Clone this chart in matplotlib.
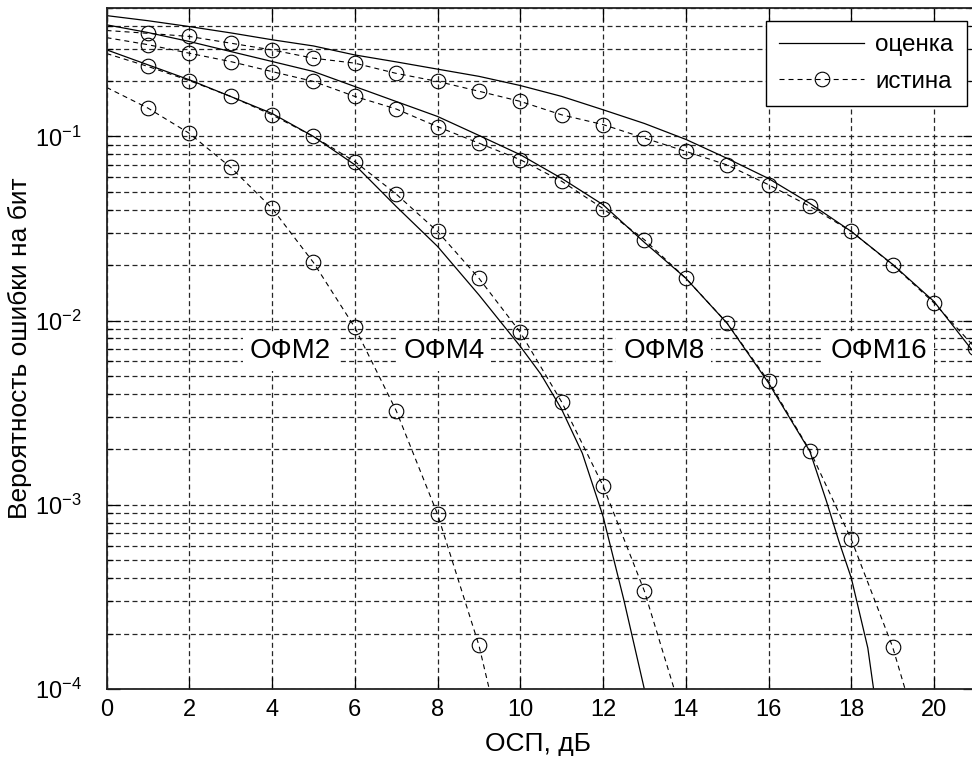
import numpy as np
import matplotlib
matplotlib.use("Agg")
import matplotlib.pyplot as plt
from matplotlib.ticker import LogLocator, NullFormatter, FixedLocator
from matplotlib.lines import Line2D

# ---- data: bit error probability vs SNR (dB) ----
# exact ("истина") curves, markers at integer SNR from 1 dB
true2_snr = [0, 1, 2, 3, 4, 5, 6, 7, 8, 9, 9.25]
true2_ber = [0.1846, 0.1426, 0.104, 0.068, 0.0408, 0.0207, 0.0092, 0.00325,
             0.00089, 0.000173, 0.0001]

true4_snr = [0, 1, 2, 3, 4, 5, 6, 7, 8, 9, 10, 11, 12, 13, 13.72]
true4_ber = [0.282, 0.240, 0.201, 0.165, 0.131, 0.100, 0.0731, 0.0487, 0.0305,
             0.0170, 0.00865, 0.00362, 0.00127, 0.00034, 0.0001]

true8_snr = [0, 1, 2, 3, 4, 5, 6, 7, 8, 9, 10, 11, 12, 13, 14, 15, 16, 17,
             18, 19, 19.3]
true8_ber = [0.344, 0.315, 0.283, 0.255, 0.225, 0.199, 0.165, 0.141, 0.113,
             0.092, 0.0748, 0.0571, 0.0406, 0.0275, 0.0170, 0.0097, 0.00469,
             0.00197, 0.00065, 0.000169, 0.0001]

true16_snr = list(range(0, 22))
true16_ber = [0.376, 0.363, 0.349, 0.321, 0.295, 0.266, 0.250, 0.220, 0.199,
              0.176, 0.155, 0.131, 0.116, 0.098, 0.083, 0.070, 0.0547, 0.0417,
              0.0305, 0.0201, 0.01247, 0.0071]

# approximate ("оценка") curves
est4_snr = [0, 1, 2, 3, 4, 5, 6, 7, 8, 9, 10, 10.5, 11, 11.5, 12, 12.5, 13.05]
est4_ber = [0.2954, 0.2449, 0.2031, 0.1648, 0.1333, 0.100, 0.0702, 0.0417,
            0.0253, 0.0138, 0.00725, 0.00511, 0.0033, 0.001905, 0.000867,
            0.000307, 0.000089]

est8_snr = [0, 1, 2, 3, 4, 5, 6, 7, 8, 9, 10, 11, 12, 13, 14, 15, 16, 17,
            17.4, 17.7, 18, 18.4, 18.55]
est8_ber = [0.4037, 0.3666, 0.3277, 0.2891, 0.2553, 0.2253, 0.1867, 0.1548,
            0.1284, 0.1013, 0.0796, 0.0592, 0.0426, 0.0266, 0.0170, 0.00967,
            0.00459, 0.00195, 0.001046, 0.000635, 0.000401, 0.000167, 0.000096]

est16_snr = list(range(0, 22))
est16_ber = [0.453, 0.425, 0.395, 0.365, 0.335, 0.310, 0.277, 0.254, 0.232,
             0.212, 0.189, 0.165, 0.1396, 0.1176, 0.0964, 0.076, 0.0591,
             0.0433, 0.0305, 0.0202, 0.0127, 0.00656]

mod_names = ["ОФМ2", "ОФМ4", "ОФМ8", "ОФМ16"]
name_x = [3.47, 7.17, 12.49, 17.49]
name_y = [0.0068, 0.0068, 0.0068, 0.0068]

x_ticks = list(range(0, 21, 2))
legend_labels = ["оценка", "истина"]

# ---- style ----
plt.rcParams['font.family'] = ['Liberation Sans', 'DejaVu Sans']
plt.rcParams['mathtext.fontset'] = 'custom'
plt.rcParams['mathtext.rm'] = 'Liberation Sans'
plt.rcParams['mathtext.it'] = 'Liberation Sans:italic'
plt.rcParams['mathtext.bf'] = 'Liberation Sans:bold'
plt.rcParams['lines.scale_dashes'] = False

FS = 17
grid_ls = (0, (3.6, 2.4))
true_ls = (0, (3.6, 2.9))

fig = plt.figure(figsize=(9.72, 7.62), dpi=100)
ax = fig.add_axes([106.5 / 972, 1 - 689 / 762, (975.4 - 106.5) / 972,
                   (689 - 7.7) / 762])

ax.set_yscale('log')
ax.set_xlim(0, 21)
ax.set_ylim(1e-4, 0.5)

ax.xaxis.set_major_locator(FixedLocator(x_ticks))
ax.yaxis.set_major_locator(LogLocator(base=10, numticks=10))
ax.yaxis.set_minor_locator(LogLocator(base=10, subs=np.arange(2, 10), numticks=20))
ax.yaxis.set_minor_formatter(NullFormatter())

ax.grid(True, which='major', axis='both', linestyle=grid_ls, color='#262626', lw=0.9)
ax.grid(True, which='minor', axis='y', linestyle=grid_ls, color='#262626', lw=0.9)

ax.tick_params(which='both', direction='in', top=True, right=True,
               labelsize=FS, colors='black', width=0.9)
ax.tick_params(which='major', length=9)
ax.tick_params(which='minor', length=4.5)
ax.tick_params(axis='x', pad=7)
ax.tick_params(axis='y', pad=18)

for sp in ax.spines.values():
    sp.set_linewidth(1.3)
    sp.set_color('#222222')

marker_kw = dict(marker='o', markersize=10.5, markerfacecolor='none',
                 markeredgecolor='black', markeredgewidth=0.8)

for sx, sy in [(true2_snr, true2_ber), (true4_snr, true4_ber),
               (true8_snr, true8_ber), (true16_snr, true16_ber)]:
    idx = [i for i, v in enumerate(sx) if v >= 1 and float(v).is_integer()]
    ax.plot(sx, sy, color='black', lw=0.8, linestyle=true_ls,
            markevery=idx, **marker_kw)

for sx, sy in [(est4_snr, est4_ber), (est8_snr, est8_ber),
               (est16_snr, est16_ber)]:
    ax.plot(sx, sy, color='black', lw=0.9, linestyle='-')

for name, tx, ty in zip(mod_names, name_x, name_y):
    ax.text(tx, ty, name, fontsize=20, ha='left', va='center', zorder=3,
            bbox=dict(boxstyle='square,pad=0.25', fc='white', ec='none'))

ax.set_xlabel('ОСП, дБ', fontsize=19)
ax.xaxis.set_label_coords(0.497, -0.063)
ax.set_ylabel('Вероятность ошибки на бит', fontsize=19)
ax.yaxis.set_label_coords(-0.0857, 0.5)

handles = [Line2D([], [], color='black', lw=0.9, linestyle='-'),
           Line2D([], [], color='black', lw=0.8, linestyle=true_ls, **marker_kw)]
leg = ax.legend(handles, legend_labels, loc='upper right',
                bbox_to_anchor=(967 / 972, 1 - 21 / 762),
                bbox_transform=fig.transFigure, borderaxespad=0,
                fancybox=False, framealpha=1, edgecolor='black',
                fontsize=17.5, handlelength=3.5, handletextpad=0.45,
                borderpad=0.55, labelspacing=0.6, numpoints=1)
leg.get_frame().set_linewidth(1.0)

fig.savefig('out.png', dpi=100)
